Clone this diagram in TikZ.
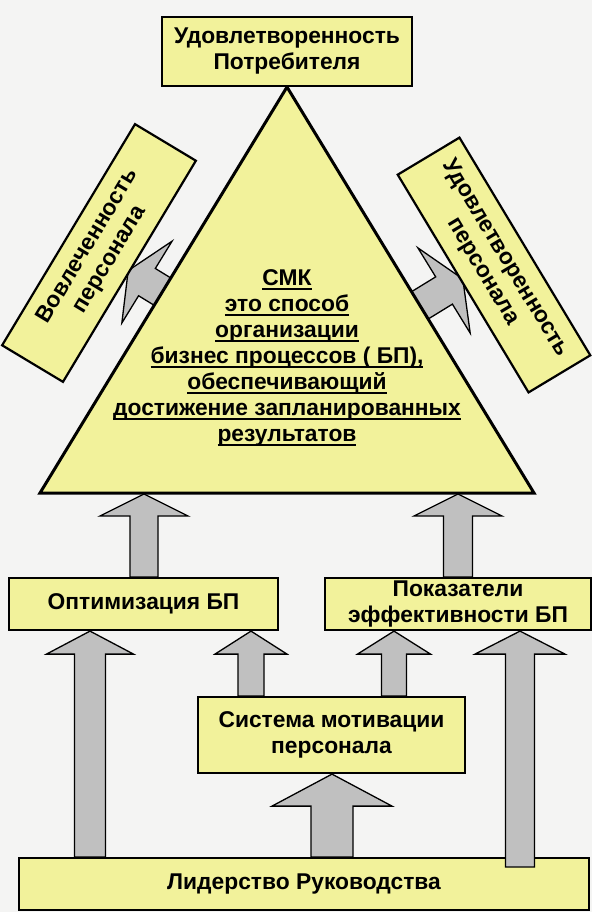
\documentclass[tikz,border=0pt]{standalone}
\usepackage{fontspec}
\setmainfont{Liberation Sans}
\usetikzlibrary{calc}
\definecolor{boxy}{RGB}{242,242,155}
\definecolor{arrg}{RGB}{192,192,192}
\definecolor{bgc}{RGB}{244,244,243}
\newcommand\myul[1]{\setbox0\hbox{#1}\rlap{\rule[-4pt]{\wd0}{1.8pt}}\box0}
\newcommand\blockarr[5]{%
  \coordinate (hb) at ($(#2)!#5!(#1)$);
  \filldraw[barrow] ($(#1)!#3!90:(#2)$) -- ($(hb)!#3!-90:(#1)$) -- ($(hb)!#4!-90:(#1)$) -- (#2)
     -- ($(hb)!#4!90:(#1)$) -- ($(hb)!#3!90:(#1)$) -- ($(#1)!#3!-90:(#2)$) -- cycle;}
\tikzset{
  txtfont/.style={font=\bfseries\fontsize{22.8}{26}\selectfont},
  ybox/.style={draw=black, line width=2.2pt, fill=boxy, align=center, inner sep=0pt, txtfont},
  barrow/.style={fill=arrg, draw=black, line width=1.3pt, line join=miter},
  trist/.style={draw=black, line width=3pt, fill=boxy, line join=miter}
}
\begin{document}
\begin{tikzpicture}[x=1pt,y=-1pt]
\fill[bgc] (0,0) rectangle (592,912);
\useasboundingbox (0,0) rectangle (592,912);
% side arrows (behind triangle)
\coordinate (sls) at (181,303);
\coordinate (slt) at (128.2,270.6);
\coordinate (srs) at (410,311.4);
\coordinate (srt) at (462.8,279);
\blockarr{sls}{slt}{16pt}{48pt}{22pt}
\blockarr{srs}{srt}{16pt}{50pt}{22pt}
% triangle
\coordinate (apex) at (287,87);
\coordinate (bl) at (40,493);
\coordinate (br) at (534,493);
\filldraw[trist] (apex) -- (bl) -- (br) -- cycle;
\node[align=center, txtfont] (smk) at (287,358)
  {\myul{СМК}\\\myul{это способ}\\\myul{организации}\\\myul{бизнес процессов ( БП),}\\
   \myul{обеспечивающий}\\\myul{достижение запланированных}\\\myul{результатов}};
% rotated boxes
\node[ybox, minimum width=258pt, minimum height=71pt, rotate=59] (vov) at (99,253)
  {Вовлеченность\\персонала};
\node[ybox, minimum width=254pt, minimum height=72pt, rotate=-59] (udp) at (494,265)
  {Удовлетворенность\\персонала};
% top box
\node[ybox, minimum width=250pt, minimum height=69pt] (top) at (287,51.5)
  {Удовлетворенность\\Потребителя};
% lower boxes
\node[ybox, minimum width=269pt, minimum height=52pt] (opt) at (143.5,604) {Оптимизация БП};
\node[ybox, minimum width=266pt, minimum height=52pt] (pok) at (458,604) {Показатели\\эффективности БП};
\node[ybox, minimum width=267pt, minimum height=76pt] (mot) at (331.5,735) {Система мотивации\\персонала};
\node[ybox, minimum width=570pt, minimum height=52pt] (lid) at (304,884) {Лидерство Руководства};
% x positions of vertical arrows
\coordinate (xu1) at (144,0);
\coordinate (xu2) at (458,0);
\coordinate (xa) at (90,0);
\coordinate (xb) at (251,0);
\coordinate (xc) at (394,0);
\coordinate (xd) at (520,0);
\coordinate (xe) at (332,0);
% upper arrows
\coordinate (u1s) at (opt.north -| xu1);
\coordinate (u1t) at (144,494);
\coordinate (u2s) at (pok.north -| xu2);
\coordinate (u2t) at (458,494);
\blockarr{u1s}{u1t}{14pt}{44pt}{22pt}
\blockarr{u2s}{u2t}{14.5pt}{44pt}{22pt}
% lower arrows
\coordinate (as) at (lid.north -| xa);
\coordinate (at) at (opt.south -| xa);
\coordinate (bs) at (mot.north -| xb);
\coordinate (bt) at (opt.south -| xb);
\coordinate (cs) at (mot.north -| xc);
\coordinate (ct) at (pok.south -| xc);
\coordinate (ds) at (520,867);
\coordinate (dt) at (pok.south -| xd);
\coordinate (es) at (lid.north -| xe);
\coordinate (et) at (mot.south -| xe);
\blockarr{as}{at}{15.5pt}{43.5pt}{23pt}
\blockarr{bs}{bt}{13pt}{36pt}{23pt}
\blockarr{cs}{ct}{12.5pt}{36.5pt}{23pt}
\blockarr{ds}{dt}{14.5pt}{45pt}{23pt}
\blockarr{es}{et}{21pt}{60pt}{32pt}
\end{tikzpicture}
\end{document}
